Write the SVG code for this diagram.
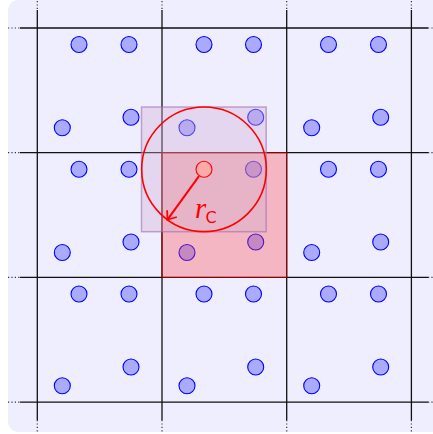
<svg xmlns="http://www.w3.org/2000/svg" width="433" height="434" viewBox="0 0 433 434">
<defs>
<style>
.grid{stroke:#111;stroke-width:1.3;fill:none}
.ext{stroke:#333;stroke-width:1.2;stroke-dasharray:1.2 2.2;fill:none}
.p{fill:#aaaaff;stroke:#0000ff;stroke-width:1.1}
.lbl{fill:#ff0000}
</style>
<marker id="ah" markerUnits="userSpaceOnUse" markerWidth="16" markerHeight="16" refX="0" refY="0" viewBox="-10 -8 12 16" orient="auto">
<path d="M -7 -5.5 Q -2 -1.5 0 0 Q -2 1.5 -7 5.5" fill="none" stroke="#ff0000" stroke-width="1.8" stroke-linecap="round"/>
</marker>
</defs>
<rect x="8" y="0" width="440" height="432" rx="10" fill="#eeeeff"/>
<g id="grid">
<path class="grid" d="M37.3 10V420M162 10V420M286.7 10V420M411.4 10V420M20 28H428M20 152.7H428M20 277.4H428M20 402.1H428"/>
<path class="ext" d="M37.3 1V10M162 1V10M286.7 1V10M411.4 1V10M37.3 420V433M162 420V433M286.7 420V433M411.4 420V433M8 28H20M8 152.7H20M8 277.4H20M8 402.1H20M428 28H433M428 152.7H433M428 277.4H433M428 402.1H433"/>
</g>
<g id="particles">
<circle class="p" cx="79" cy="44.5" r="8"/><circle class="p" cx="129" cy="44.5" r="8"/><circle class="p" cx="62.3" cy="127.7" r="8"/><circle class="p" cx="131" cy="117.3" r="8"/>
<circle class="p" cx="204" cy="44.5" r="8"/><circle class="p" cx="253.5" cy="44.5" r="8"/><circle class="p" cx="187" cy="127.7" r="8"/><circle class="p" cx="255.7" cy="117.3" r="8"/>
<circle class="p" cx="328.5" cy="44.5" r="8"/><circle class="p" cx="378.5" cy="44.5" r="8"/><circle class="p" cx="311.7" cy="127.7" r="8"/><circle class="p" cx="380.7" cy="117.3" r="8"/>
<circle class="p" cx="79" cy="169.3" r="8"/><circle class="p" cx="129" cy="169.3" r="8"/><circle class="p" cx="62.3" cy="252.5" r="8"/><circle class="p" cx="131" cy="242" r="8"/>
<circle class="p" cx="253.5" cy="169.3" r="8"/><circle class="p" cx="187" cy="252.5" r="8"/><circle class="p" cx="255.7" cy="242" r="8"/>
<circle class="p" cx="328.5" cy="169.3" r="8"/><circle class="p" cx="378.5" cy="169.3" r="8"/><circle class="p" cx="311.7" cy="252.5" r="8"/><circle class="p" cx="380.7" cy="242" r="8"/>
<circle class="p" cx="79" cy="294" r="8"/><circle class="p" cx="129" cy="294" r="8"/><circle class="p" cx="62.3" cy="385.7" r="8"/><circle class="p" cx="131" cy="367" r="8"/>
<circle class="p" cx="204" cy="294" r="8"/><circle class="p" cx="253.5" cy="294" r="8"/><circle class="p" cx="187" cy="385.7" r="8"/><circle class="p" cx="255.7" cy="367" r="8"/>
<circle class="p" cx="328.5" cy="294" r="8"/><circle class="p" cx="378.5" cy="294" r="8"/><circle class="p" cx="311.7" cy="385.7" r="8"/><circle class="p" cx="380.7" cy="367" r="8"/>
</g>
<g id="cell">
<rect x="162" y="152.7" width="124.7" height="124.7" fill="#ff4040" fill-opacity="0.32" stroke="#990000" stroke-width="1"/>
</g>
<g id="neighbourhood">
<rect x="141.5" y="107" width="124.7" height="124.7" fill="#d3add1" fill-opacity="0.37" stroke="#a070b0" stroke-opacity="0.6" stroke-width="1.5"/>
</g>
<g id="cutoff">
<circle cx="204" cy="169.3" r="62.3" fill="none" stroke="#ff0000" stroke-width="1.6"/>
</g>
<g id="connectors">
<line x1="199" y1="176.2" x2="167.5" y2="219.7" stroke="#ff0000" stroke-width="2" marker-end="url(#ah)"/>
</g>
<g id="particle-i">
<circle cx="204" cy="169.3" r="8" fill="#ffaaaa" stroke="#ff0000" stroke-width="1.1"/>
</g>
<g id="label">
<text x="195" y="218.3" class="lbl" font-family="'Liberation Serif', serif" font-style="italic" font-size="29">r</text>
<text x="205.5" y="223.3" class="lbl" font-family="'DejaVu Sans', sans-serif" font-size="16">C</text>
</g>
</svg>
